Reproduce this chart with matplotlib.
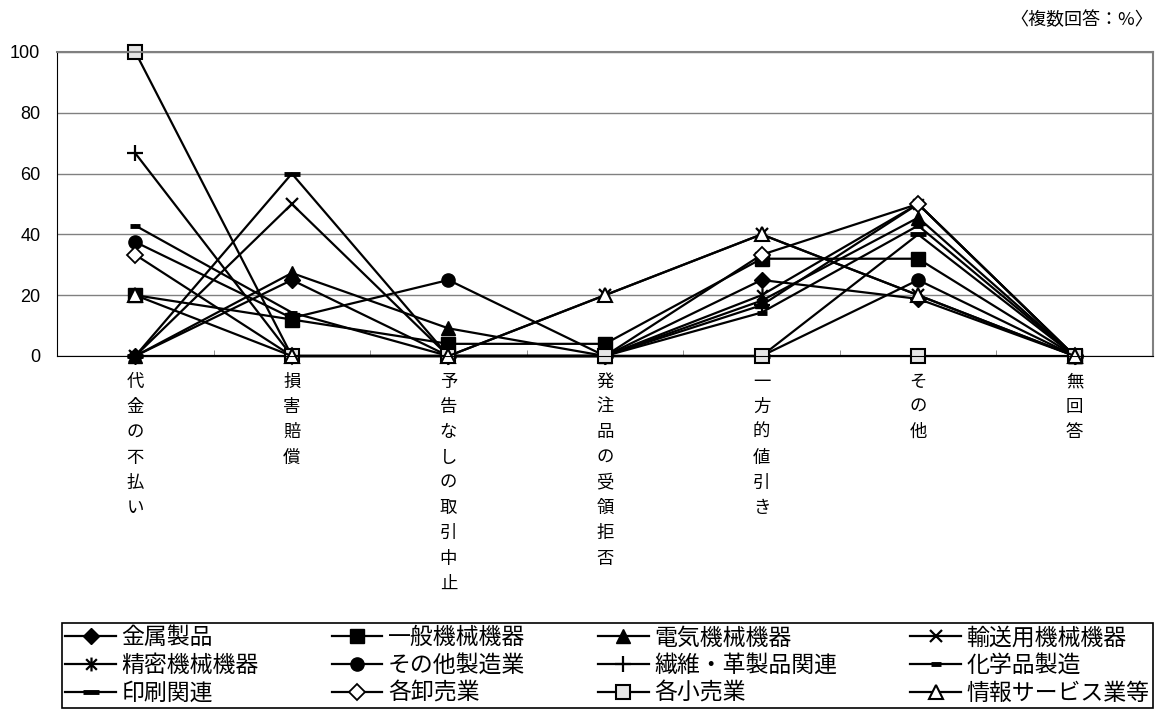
import numpy as np
import matplotlib.pyplot as plt
from matplotlib.path import Path

plt.rcParams['font.family'] = ['Noto Sans CJK JP', 'DejaVu Sans']

categories = ["代金の不払い", "損害賠償", "予告なしの取引中止", "発注品の受領拒否",
              "一方的値引き", "その他", "無回答"]

kinzoku = [0, 25, 0, 0, 25, 18.8, 0]
ippan = [20, 12, 4, 4, 32, 32, 0]
denki = [0, 27.3, 9.1, 0, 18.2, 45.5, 0]
yuso = [0, 50, 0, 20, 40, 20, 0]
seimitsu = [0, 0, 0, 0, 20, 50, 0]
sonota = [37.5, 12.5, 25, 0, 0, 25, 0]
seni = [66.7, 0, 0, 0, 16.7, 50, 0]
kagaku = [42.9, 14.3, 0, 0, 14.3, 42.9, 0]
insatsu = [0, 60, 0, 0, 0, 40, 0]
oroshi = [33.3, 0, 0, 0, 33.3, 50, 0]
kouri = [100, 0, 0, 0, 0, 0, 0]
joho = [20, 0, 0, 20, 40, 20, 0]

series_names = ["金属製品", "一般機械機器", "電気機械機器", "輸送用機械機器",
                "精密機械機器", "その他製造業", "繊維・革製品関連", "化学品製造",
                "印刷関連", "各卸売業", "各小売業", "情報サービス業等"]
series_values = [kinzoku, ippan, denki, yuso, seimitsu, sonota, seni, kagaku,
                 insatsu, oroshi, kouri, joho]

# star marker: x with a vertical bar
star = Path([(-1, -1), (1, 1), (-1, 1), (1, -1), (0, -1.3), (0, 1.3)],
            [Path.MOVETO, Path.LINETO, Path.MOVETO, Path.LINETO, Path.MOVETO, Path.LINETO])

styles = [
    dict(marker='D', ms=8.5, mfc='black', mec='black'),
    dict(marker='s', ms=9.5, mfc='black', mec='black'),
    dict(marker='^', ms=9.5, mfc='black', mec='black'),
    dict(marker='x', ms=9, mec='black', mew=1.6),
    dict(marker=star, ms=10, mec='black', mew=1.6),
    dict(marker='o', ms=9.5, mfc='black', mec='black'),
    dict(marker='+', ms=11, mec='black', mew=1.6),
    dict(marker='_', ms=7, mec='black', mew=3.5),
    dict(marker='_', ms=11, mec='black', mew=3.5),
    dict(marker='D', ms=8.5, mfc='white', mec='black', mew=1.3),
    dict(marker='s', ms=9.5, mfc='#e6e6e6', mec='black', mew=1.5),
    dict(marker='^', ms=9.5, mfc='white', mec='black', mew=1.5),
]

fig = plt.figure(figsize=(11.65, 7.13), dpi=100)
ax = fig.add_axes([57 / 1165, 1 - 356 / 713, (1153 - 57) / 1165, (356 - 52) / 713])

x = np.arange(len(categories))
handles = []
for name, vals, st in zip(series_names, series_values, styles):
    h, = ax.plot(x, vals, color='black', lw=1.6, label=name, clip_on=False, **st)
    handles.append(h)

ax.set_xlim(-0.5, len(categories) - 0.5)
ax.set_ylim(0, 100)
ax.set_yticks(np.arange(0, 101, 20))
ax.yaxis.grid(True, color='#808080', lw=1)
ax.set_axisbelow(True)
ax.tick_params(axis='y', length=0, pad=12, labelsize=13)
for lab in ax.get_yticklabels():
    lab.set_family('Liberation Sans')

ax.set_xticks(x)
ax.set_xticklabels(["\n".join(c) for c in categories], fontsize=12.5, linespacing=1.52, va='top')
ax.set_xticks(np.arange(0.5, len(categories) - 1, 1), minor=True)
ax.tick_params(axis='x', which='major', length=0, pad=12)
ax.tick_params(axis='x', which='minor', direction='in', length=4.5, color='#808080')

for side in ['top', 'right']:
    ax.spines[side].set_color('#808080')
    ax.spines[side].set_linewidth(1.5)
ax.spines['left'].set_color('black')
ax.spines['bottom'].set_color('black')

fig.text(1153 / 1165, 1 - 20 / 713, "〈複数回答：%〉", ha='right', va='center', fontsize=13)

# legend is filled column-wise, reorder so it reads row by row like the original
ncol = 4
order = [r * ncol + c for c in range(ncol) for r in range(3)]
leg_top = 1 - 623 / 713
leg = fig.legend([handles[i] for i in order], [series_names[i] for i in order],
                 loc='upper left', bbox_to_anchor=(62 / 1165, leg_top - 0.2, (1153 - 62) / 1165, 0.2),
                 mode='expand', ncol=ncol,
                 fontsize=16.5, handlelength=2.2, handletextpad=0.25,
                 labelspacing=0.2, borderpad=0.15, borderaxespad=0, fancybox=False,
                 edgecolor='black', framealpha=1)
leg.get_frame().set_linewidth(1.2)

fig.savefig('out.png', dpi=100)
